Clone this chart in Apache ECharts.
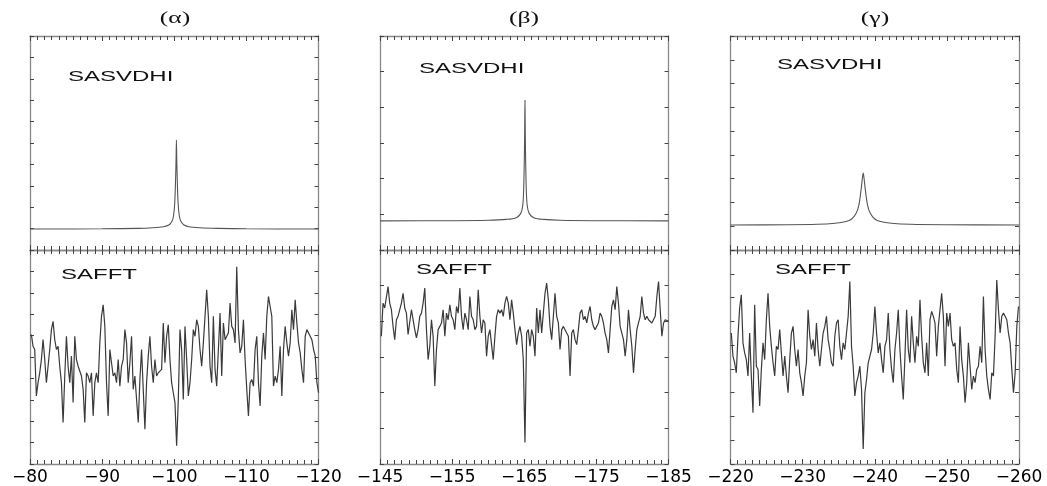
<!DOCTYPE html>
<html>
<head>
<meta charset="utf-8">
<script src="https://cdn.jsdelivr.net/npm/echarts@6/dist/echarts.min.js"></script>
<style>
html, body { margin: 0; padding: 0; background: #fff; }
#main { width: 1047px; height: 486px; }
</style>
</head>
<body>
<div id="main"></div>
<script>
// x ranges of the three panels (left value, right value)
var xRangeA = [-80, -120];
var xRangeB = [-145, -185];
var xRangeG = [-220, -260];
var panelTitles = ['(\u03b1)', '(\u03b2)', '(\u03b3)'];
// number of y tick divisions per panel (top and bottom share it)
var yDivisions = [10, 6, 9];

// SASVDHI spectra (x, height 0..100 of the frame)
var svdAx = [-80, -90, -95, -97, -98.5, -99.3, -99.7, -99.9, -100.05, -100.15, -100.25, -100.3, -100.35, -100.45, -100.55, -100.7, -100.9, -101.3, -102, -103.5, -106, -110, -120];
var svdAy = [9.8, 9.9, 10.1, 10.4, 10.9, 11.8, 13.5, 16.0, 21, 29, 42, 51.4, 42, 29, 21, 16, 13.5, 11.8, 10.9, 10.4, 10.1, 9.9, 9.8];
var svdBx = [-145, -155, -160, -162.5, -163.8, -164.5, -164.8, -164.95, -165.05, -165.1, -165.15, -165.25, -165.4, -165.7, -166.4, -167.7, -170, -175, -185];
var svdBy = [13.6, 13.7, 13.9, 14.3, 15.0, 17.0, 21, 32, 52, 70, 52, 32, 21, 17, 15, 14.3, 13.9, 13.7, 13.6];
var svdGx = [-220, -228, -232, -234.5, -236, -236.8, -237.4, -237.8, -238.1, -238.3, -238.4, -238.5, -238.7, -239.0, -239.4, -240.0, -240.8, -242.3, -245, -250, -260];
var svdGy = [11.7, 11.8, 12.0, 12.5, 13.3, 14.5, 17, 21, 28, 34, 36, 34, 28, 21, 17, 14.5, 13.3, 12.5, 12.0, 11.8, 11.7];

// SAFFT spectra, sampled on an even grid
var fftStep = -0.2315;
var fftAStart = -80.19, fftBStart = -145.19, fftGStart = -220.11;
var fftA = [
  60.5, 55.0, 53.5, 31.8, 38.0, 42.6, 48.8, 58.1, 48.8, 38.0,
  45.7, 53.5, 62.8, 66.7, 58.1, 53.5, 55.0, 45.7, 38.0, 19.4,
  41.1, 59.7, 45.7, 38.0, 50.4, 28.7, 59.7, 48.8, 45.7, 45.7,
  41.1, 34.9, 19.4, 42.6, 41.1, 38.0, 42.6, 22.5, 38.0, 42.6,
  38.0, 56.6, 69.0, 74.4, 64.3, 38.0, 22.5, 53.5, 54.3, 41.1,
  42.6, 38.0, 48.8, 36.4, 45.7, 48.8, 62.8, 56.6, 38.0, 47.3,
  59.7, 34.9, 41.1, 41.1, 19.4, 39.5, 53.5, 34.9, 16.3, 38.0,
  50.4, 59.7, 45.7, 38.0, 48.8, 41.1, 42.6, 42.6, 44.2, 65.9,
  47.3, 59.7, 65.1, 48.8, 38.0, 33.3, 28.7,
  8.5, 30.2, 62.8, 53.5, 30.2, 64.3, 48.8, 31.8, 38.0, 48.8,
  62.8, 59.7, 67.4, 64.3, 53.5, 45.7, 56.6, 69.0, 81.4, 69.0,
  45.7, 38.0, 69.0, 44.2, 36.4, 53.5, 70.5, 41.1, 65.9, 58.1,
  59.7, 61.2, 75.2, 64.3, 62.8, 56.6, 92.2, 62.8, 51.9, 55.0,
  67.4, 48.8, 34.9, 22.5, 38.0, 39.5, 36.4, 53.5, 59.7, 38.0,
  27.1, 50.4, 61.2, 48.8, 69.0, 78.3, 73.6, 69.0, 36.4, 41.1,
  38.0, 44.2, 55.0, 31.8, 53.5, 64.3, 56.6, 50.4, 56.6, 72.1,
  62.8, 76.7, 65.9, 56.6, 51.9, 44.2, 38.0, 59.7, 62.8, 62.8,
  59.7, 58.1, 53.5, 50.4, 38.0, 33.3
];
var fftB = [
  59.7, 75.2, 72.9, 72.1, 82.9, 75.2, 72.1, 64.3, 58.1, 67.4,
  69.0, 72.1, 75.2, 79.8, 72.9, 70.5, 60.5, 61.2, 72.1, 72.9,
  62.8, 58.9, 62.8, 69.0, 70.5, 75.2, 82.2, 62.8, 48.8, 55.0,
  67.4, 59.7, 36.4, 53.5, 62.8, 64.3, 65.9, 72.1, 59.7, 70.5,
  67.4, 74.4, 69.0, 67.4, 62.8, 73.6, 70.5, 82.2, 69.0, 62.8,
  70.5, 67.4, 62.8, 78.3, 69.0, 67.4, 62.8, 64.3, 81.4, 69.0,
  61.2, 67.4, 65.9, 50.4, 59.7, 62.8, 62.8, 48.8, 59.7, 69.0,
  72.1, 70.5, 72.1, 69.0, 75.2, 78.3, 75.2, 67.4, 76.7, 70.5,
  62.8, 55.8, 61.2, 64.3, 59.7, 48.8, 10.1,
  61.2, 62.8, 55.0, 62.8, 59.7, 50.4, 72.9, 61.2, 72.1, 61.2,
  61.2, 79.8, 84.5, 76.7, 64.3, 58.1, 69.0, 79.8, 69.0, 65.9,
  53.5, 62.8, 64.3, 64.3, 61.2, 59.7, 41.1, 61.2, 62.8, 58.1,
  55.8, 62.8, 70.5, 72.1, 67.4, 69.0, 65.9, 70.5, 73.6, 67.4,
  64.3, 62.8, 63.6, 65.9, 70.5, 69.0, 65.9, 61.2, 58.1, 51.9,
  62.8, 73.6, 76.7, 72.1, 82.9, 75.2, 64.3, 64.3, 58.1, 50.4,
  58.1, 72.1, 62.8, 55.0, 42.6, 53.5, 62.8, 65.9, 69.0, 78.3,
  70.5, 67.4, 69.0, 67.4, 67.4, 65.9, 65.9, 69.0, 78.3, 85.3,
  72.1, 59.7, 65.9, 67.4, 68.2, 66.7
];
var fftG = [
  61.2, 50.4, 47.3, 42.6, 59.7, 72.9, 79.1, 56.6, 51.9, 48.8,
  41.1, 61.2, 41.1, 24.0, 74.4, 45.7, 44.2, 27.1, 44.2, 56.6,
  48.8, 67.4, 79.8, 64.3, 55.0, 47.3, 41.1, 55.0, 53.5, 62.8,
  51.9, 41.1, 50.4, 41.1, 33.3, 48.8, 61.2, 64.3, 53.5, 45.7,
  53.5, 42.6, 38.0, 31.8, 41.1, 47.3, 72.1, 59.7, 53.5, 58.1,
  50.4, 65.9, 53.5, 45.7, 53.5, 61.2, 64.3, 69.0, 58.1, 53.5,
  47.3, 45.7, 59.7, 65.9, 67.4, 55.0, 48.8, 56.6, 53.5, 61.2,
  69.0, 85.3, 55.0, 45.7, 31.8, 38.0, 41.1, 45.7, 34.9, 7.0,
  33.3, 39.5, 47.3, 50.4, 53.5, 61.2, 73.6,
  61.2, 51.9, 56.6, 48.8, 42.6, 55.0, 58.1, 70.5, 53.5, 44.2,
  38.0, 53.5, 61.2, 72.1, 53.5, 41.1, 30.2, 50.4, 72.1, 53.5,
  47.3, 69.0, 56.6, 47.3, 59.7, 55.0, 76.7, 59.7, 47.3, 42.6,
  56.6, 41.1, 67.4, 71.3, 69.0, 65.9, 50.4, 64.3, 72.1, 79.8,
  69.0, 45.7, 70.5, 64.3, 70.5, 58.1, 55.0, 56.6, 44.2, 38.0,
  64.3, 48.8, 41.1, 28.7, 38.0, 56.6, 45.7, 34.9, 41.1, 38.0,
  44.2, 45.7, 55.0, 47.3, 78.3, 53.5, 41.1, 34.9, 30.2, 42.6,
  41.1, 59.7, 86.0, 72.1, 61.2, 69.0, 70.5, 69.0, 67.4, 61.2,
  56.6, 44.2, 33.3, 42.6, 64.3, 73.6
];

var myChart = echarts.init(document.getElementById('main'));

function pairs(xs, ys) {
    return xs.map(function (x, i) { return [x, ys[i]]; });
}
function grid(start, vals) {
    return vals.map(function (v, i) { return [start + fftStep * i, v]; });
}

var xRanges = [xRangeA, xRangeB, xRangeG];
var panelLeft = [30, 380, 730.5];
var panelWidth = 288.5;
var frameColor = '#888';
var tickColor = '#444';

var grids = [], xAxes = [], yAxes = [], series = [];
var topData = [pairs(svdAx, svdAy), pairs(svdBx, svdBy), pairs(svdGx, svdGy)];
var bottomData = [grid(fftAStart, fftA), grid(fftBStart, fftB), grid(fftGStart, fftG)];

for (var p = 0; p < 3; p++) {
    for (var r = 0; r < 2; r++) {
        var g = p * 2 + r;
        grids.push({
            left: panelLeft[p], width: panelWidth,
            top: r === 0 ? 36 : 250, height: r === 0 ? 214 : 215
        });
        ['bottom', 'top'].forEach(function (pos) {
            xAxes.push({
                gridIndex: g, type: 'value', position: pos,
                min: xRanges[p][1], max: xRanges[p][0], interval: 10, inverse: true,
                axisLine: { show: true, onZero: false, lineStyle: { color: frameColor, width: 1.3 } },
                axisTick: { show: true, inside: true, length: 5, lineStyle: { color: tickColor } },
                minorTick: { show: true, splitNumber: 10, length: 4, lineStyle: { color: tickColor, width: 1 } },
                splitLine: { show: false },
                axisLabel: {
                    show: r === 1 && pos === 'bottom',
                    margin: 5,
                    color: '#000',
                    fontFamily: 'DejaVu Sans',
                    fontSize: 17,
                    formatter: function (v) { return v < 0 ? '\u2212' + (-v) : String(v); }
                }
            });
        });
        ['left', 'right'].forEach(function (pos) {
            yAxes.push({
                gridIndex: g, type: 'value', position: pos,
                min: 0, max: 100, interval: 100 / yDivisions[p],
                axisLine: { show: true, onZero: false, lineStyle: { color: frameColor, width: 1.3 } },
                axisTick: { show: true, inside: true, length: 4, lineStyle: { color: tickColor } },
                splitLine: { show: false },
                axisLabel: { show: false }
            });
        });
        series.push({
            type: 'line',
            xAxisIndex: g * 2, yAxisIndex: g * 2,
            data: r === 0 ? topData[p] : bottomData[p],
            showSymbol: false,
            smooth: r === 0 ? 0.3 : false,
            lineStyle: { color: r === 0 ? '#555' : '#3a3a3a', width: r === 0 ? 1.1 : 1.2 }
        });
    }
}

// figure text (stretched horizontally like the original scan)
var labels = [
    { t: panelTitles[0], x: 175, y: 18.5, f: '16px "Liberation Serif"', a: 'center' },
    { t: panelTitles[1], x: 524, y: 18.5, f: '16px "Liberation Serif"', a: 'center' },
    { t: panelTitles[2], x: 875, y: 18.5, f: '16px "Liberation Serif"', a: 'center' },
    { t: 'SASVDHI', x: 68, y: 77, f: '15px "Liberation Sans"', a: 'left' },
    { t: 'SASVDHI', x: 419, y: 69, f: '15px "Liberation Sans"', a: 'left' },
    { t: 'SASVDHI', x: 777, y: 65, f: '15px "Liberation Sans"', a: 'left' },
    { t: 'SAFFT', x: 61, y: 275, f: '15px "Liberation Sans"', a: 'left' },
    { t: 'SAFFT', x: 416, y: 270, f: '15px "Liberation Sans"', a: 'left' },
    { t: 'SAFFT', x: 775, y: 270, f: '15px "Liberation Sans"', a: 'left' }
];

var option = {
    animation: false,
    backgroundColor: '#fff',
    grid: grids,
    xAxis: xAxes,
    yAxis: yAxes,
    series: series,
    graphic: labels.map(function (l) {
        return {
            type: 'text', x: l.x, y: l.y, scaleX: 1.6,
            style: { text: l.t, font: l.f, fill: '#111', align: l.a, verticalAlign: 'middle' }
        };
    })
};
myChart.setOption(option);
</script>
</body>
</html>
